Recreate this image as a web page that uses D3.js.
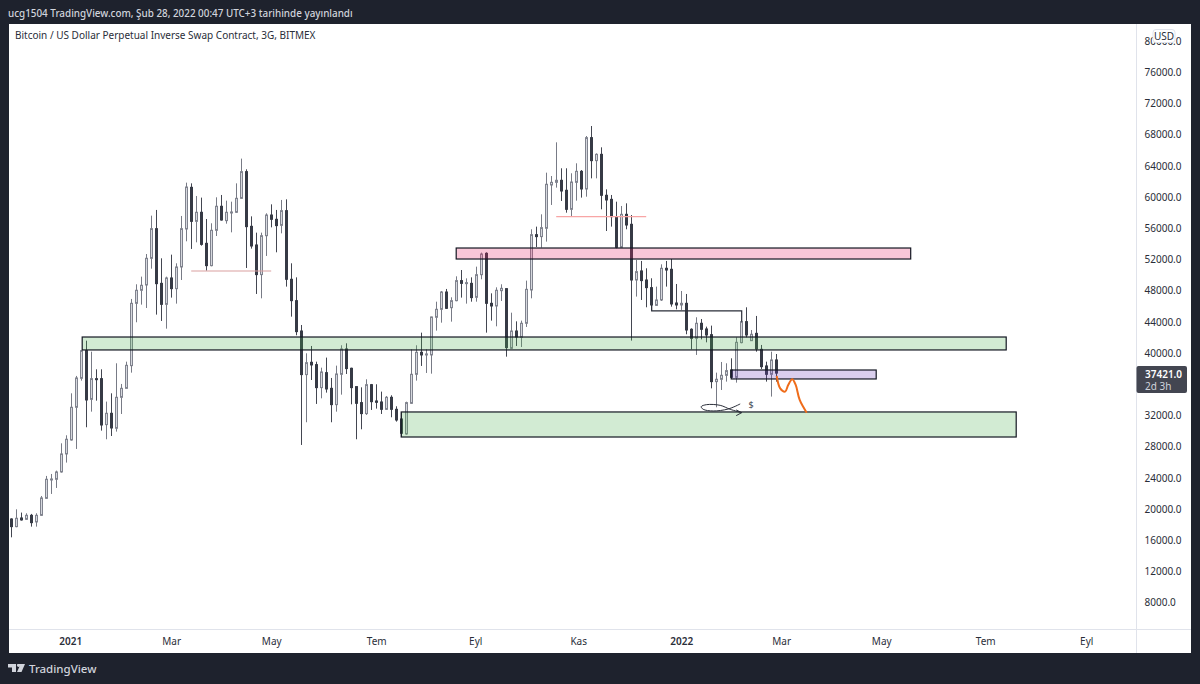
<!DOCTYPE html>
<html>
<head>
<meta charset="utf-8">
<script src="https://cdn.jsdelivr.net/npm/d3@7"></script>
<style>
  html, body { margin: 0; padding: 0; background: #1e222d; }
  svg { display: block; }
  text { font-family: "Noto Sans", sans-serif; }
</style>
</head>
<body>
<div id="chart"></div>
<script>
// Candle values, one entry per 3 day bar
const highs = [18810,19960,19540,19450,19370,19450,21670,24240,24490,24920,28420,29450,34830,37060,40390,41580,40170,37910,37910,33770,34830,38680,36030,38890,46930,48810,49790,52690,57610,58340,52140,49790,52610,51500,57570,61840,61750,60130,59920,57180,56630,59960,60260,59530,59400,61750,64920,63550,57520,55430,55430,57910,59060,58340,59620,59700,51500,49700,43590,39960,40900,38890,38120,39410,36800,38380,40990,41240,38120,35690,35600,36630,36030,35990,35050,34490,34580,33170,32350,33760,40470,40990,42610,40470,44660,46580,47950,48210,47140,49830,50640,49570,49700,51070,52870,52910,47650,48420,48810,48290,45170,44060,44150,49280,55860,56200,57780,63120,62690,67010,63680,63680,63040,64320,63460,67820,69100,65600,66370,60980,60260,59400,58850,59190,57690,51930,51800,50860,49580,48510,51370,51800,52050,48850,47950,47570,43170,44580,44360,43380,43510,37480,38850,38680,39320,42010,44230,45860,42950,44750,41030,38890,40170,39870];
const lows = [16370,17660,18510,18600,17740,17740,19110,21290,21930,22700,24660,25950,28770,27700,36460,30480,32480,33890,30050,28940,29360,29920,32180,35430,37480,43940,46200,45770,50810,44920,44110,43120,47100,46330,49360,54320,53340,54190,53760,50560,51110,55000,56970,56580,55470,57950,59790,50900,53380,47570,47010,52440,56110,52910,55340,48510,44660,42270,28210,31120,36540,33470,34190,34920,31120,32480,34660,37310,33420,28940,30220,32060,32700,32870,32180,32700,31760,31200,29280,29530,33470,36460,38340,37440,37350,42870,43890,45640,44020,46630,47100,46330,46580,46580,49450,42610,44150,43420,46670,39530,40520,40900,40770,43340,47010,53590,53510,54280,58980,61200,59490,57990,57480,59530,59920,60040,62390,62390,58420,55640,56200,53420,53460,55860,41590,47230,46800,45860,45430,46030,46670,48510,45940,45600,45520,42400,40470,39750,41750,41370,35470,33040,35260,36330,36840,36200,41240,42010,41540,40170,37950,36330,34410,36330];
const opens = [18720,17740,18850,18680,19190,18340,19190,21370,23770,23810,24750,27060,28850,33040,36760,40300,34060,36710,36710,30820,32270,30350,34320,35470,38380,46370,48040,48720,52140,55940,48930,46240,49620,48250,51030,55900,61240,56880,58040,54060,51200,55730,58810,56970,57990,58040,59830,63250,56240,53850,50050,55040,57690,57140,56370,58250,49450,46710,42820,37230,38810,38510,35560,37480,35470,33380,37270,40520,38040,35690,33640,32230,35940,33850,33720,32780,34320,32780,31540,29620,33550,37270,40090,39750,39750,44580,45600,47820,45810,46710,49280,48930,48930,47140,50040,52780,46370,46030,47990,48250,40600,42820,42010,43810,48080,55170,54920,55990,61540,61880,62140,60860,58420,61880,63290,61030,67610,64660,65470,60220,59700,57480,53550,57780,56500,49360,50520,49360,48380,46110,46800,50860,50730,46410,46160,46370,43040,41880,43810,43080,42350,36330,36630,37140,37820,36880,41330,44020,41580,42520,40470,38340,37270,39110];
const closes = [17740,18810,18600,19190,18250,19190,21420,23810,23850,24750,27060,28940,33040,36800,40300,33980,36710,36630,30770,32270,30390,34320,35470,38420,46370,48040,48680,52140,55940,48890,46240,49620,48250,51030,55940,61280,56880,58040,53930,51200,55730,58810,57050,58040,58080,59830,63250,56200,53720,50050,55040,57690,57140,56330,58250,49450,46710,42740,37230,38760,38470,35560,37570,35390,33380,37310,40520,38000,35560,33550,32230,35940,33760,33680,32780,34320,32780,31410,29710,33640,37270,40090,39750,39880,44620,45600,47820,45730,46710,49280,48930,49020,47100,50040,52690,46370,46030,48040,48290,40690,42820,42050,43810,48160,55170,54920,56070,61630,61880,62140,60770,58420,61920,63290,61030,67610,64660,65470,60220,59620,57480,53550,57780,56410,49360,50430,49280,48380,46160,46800,50860,50640,46290,46160,46370,42950,41880,43810,43040,42310,36330,36630,37140,37740,36880,41370,44020,42310,42400,40520,38250,37270,39110,37421];

// Axis labels (the 36000 tick is hidden behind the price tag in the picture)
const priceTicks = d3.range(80000, 7999, -4000).filter(p => p !== 36000);
const timeLabels = ["2021","Mar","May","Tem","Eyl","Kas","2022","Mar","May","Tem","Eyl"];
const timeBars = [11.7,31.9,51.9,72.9,92.7,113.3,133.9,153.9,173.9,194.7,214.9];

// Drawn zones: first bar, last bar, top price, bottom price, colour
const zoneStart = [14.1, 88.9, 143.9, 77.9];
const zoneEnd = [198.9, 179.8, 172.9, 200.9];
const zoneTop = [42050, 53460, 37820, 32440];
const zoneBottom = [40390, 52050, 36670, 29230];
const zoneFill = ["#4caf50", "#e91e63", "#673ab7", "#4caf50"];

// Thin horizontal levels
const levelStart = [35.9, 108.9];
const levelEnd = [51.9, 126.9];
const levelPrice = [50510, 57480];
const levelColor = ["#d9a0a0", "#f8a5a5"];

// Hand drawn pieces, as [bar, price]
const stepLine = [[128,46160],[128,45390],[146,45390],[146,44020]];
const orangePath = [[153,37050],[153.7,35470],[154.7,35050],[155.3,35900],[156.1,36630],[156.8,35900],[157.6,33980],[159,32350]];
const fishPath = [[145.7,33470],[143.3,32820],[140.3,32570],[138.3,32780],[137.9,33120],[139,33380],[141.7,33290],[143.7,32780],[146,32350]];
const fishHead = [[144.9,32700],[146,32350],[144.9,31970]];

const lastPrice = 37421;

const width = 1200, height = 684;
const box = { left: 9, right: 1191, top: 24, bottom: 653, axisX: 1136.5, axisY: 629.5 };

const svg = d3.select("#chart").append("svg")
    .attr("width", width)
    .attr("height", height);

// Dark page frame with the white chart panel inside
svg.append("rect").attr("width", width).attr("height", height).attr("fill", "#1e222d");
svg.append("rect")
    .attr("x", box.left).attr("y", box.top)
    .attr("width", box.right - box.left).attr("height", box.bottom - box.top)
    .attr("fill", "#fff");

const x = d3.scaleLinear().domain([0, 153]).range([11.7, 776.7]);
const y = d3.scaleLinear().domain([80000, 8000]).range([41, 602.6]);
const barX = i => Math.floor(x(i)) + 0.5;

// Candles
const candles = svg.append("g").selectAll("g")
    .data(highs.map((h, i) => ({ i, h, l: lows[i], o: opens[i], c: closes[i] })))
    .join("g");

candles.append("line")
    .attr("x1", d => barX(d.i))
    .attr("x2", d => barX(d.i))
    .attr("y1", d => y(d.h))
    .attr("y2", d => y(d.l))
    .attr("stroke", d => d.c >= d.o ? "#787b86" : "#434651");

candles.append("rect")
    .attr("x", d => barX(d.i) - 1)
    .attr("y", d => y(Math.max(d.o, d.c)))
    .attr("width", 2)
    .attr("height", d => Math.max(1, Math.abs(y(d.o) - y(d.c))))
    .attr("fill", d => d.c >= d.o ? "#d6d8de" : "#363a45")
    .attr("stroke", d => d.c >= d.o ? "#80838e" : "#363a45")
    .attr("stroke-width", 1);

// Zones sit on top of the candles with a see-through fill
svg.append("g").selectAll("rect")
    .data(zoneStart.map((s, i) => ({ s, e: zoneEnd[i], t: zoneTop[i], b: zoneBottom[i], fill: zoneFill[i] })))
    .join("rect")
    .attr("x", d => x(d.s))
    .attr("y", d => y(d.t))
    .attr("width", d => x(d.e) - x(d.s))
    .attr("height", d => y(d.b) - y(d.t))
    .attr("fill", d => d.fill)
    .attr("fill-opacity", 0.25)
    .attr("stroke", "#131722")
    .attr("stroke-width", 1.2);

svg.append("g").selectAll("line")
    .data(levelStart.map((s, i) => ({ s, e: levelEnd[i], p: levelPrice[i], color: levelColor[i] })))
    .join("line")
    .attr("x1", d => x(d.s))
    .attr("x2", d => x(d.e))
    .attr("y1", d => y(d.p))
    .attr("y2", d => y(d.p))
    .attr("stroke", d => d.color)
    .attr("stroke-width", 1.2);

const toXY = d3.line().x(d => x(d[0])).y(d => y(d[1]));
const toCurve = d3.line().x(d => x(d[0])).y(d => y(d[1])).curve(d3.curveCatmullRom);

svg.append("path").attr("d", toXY(stepLine))
    .attr("fill", "none").attr("stroke", "#2a2e39").attr("stroke-width", 1.2);
svg.append("path").attr("d", toCurve(orangePath))
    .attr("fill", "none").attr("stroke", "#ef6c1a").attr("stroke-width", 2);
svg.append("path").attr("d", toCurve(fishPath))
    .attr("fill", "none").attr("stroke", "#2a2e39").attr("stroke-width", 1);
svg.append("path").attr("d", toXY(fishHead))
    .attr("fill", "none").attr("stroke", "#2a2e39").attr("stroke-width", 1);
svg.append("text")
    .attr("x", x(147.9)).attr("y", y(32900))
    .attr("text-anchor", "middle")
    .attr("font-size", 9).attr("fill", "#434651")
    .text("$");

// Axis panels, separators
svg.append("line")
    .attr("x1", box.axisX).attr("x2", box.axisX)
    .attr("y1", box.top).attr("y2", box.bottom)
    .attr("stroke", "#e0e3eb");
svg.append("line")
    .attr("x1", box.left).attr("x2", box.right)
    .attr("y1", box.axisY).attr("y2", box.axisY)
    .attr("stroke", "#e0e3eb");

// Price axis
const priceAxis = svg.append("g")
    .attr("transform", `translate(${box.axisX},0)`)
    .call(d3.axisRight(y).tickValues(priceTicks).tickSize(0).tickPadding(8).tickFormat(d3.format(".1f")));
priceAxis.select(".domain").remove();
priceAxis.selectAll("text")
    .attr("font-family", "Noto Sans").attr("font-size", 10).attr("fill", "#2a2e39");

// Time axis
const timeAxis = svg.append("g")
    .attr("transform", `translate(0,${box.axisY})`)
    .call(d3.axisBottom(x).tickValues(timeBars).tickSize(0).tickPadding(8).tickFormat((d, i) => timeLabels[i]));
timeAxis.select(".domain").remove();
timeAxis.selectAll("text")
    .attr("font-family", "Noto Sans")
    .attr("font-size", 10)
    .attr("fill", "#2a2e39")
    .attr("font-weight", (d, i) => /^\d/.test(timeLabels[i]) ? 600 : 400);

// Last price tag
const tagY = y(lastPrice);
svg.append("rect")
    .attr("x", box.axisX).attr("y", tagY - 7)
    .attr("width", 50.5).attr("height", 27).attr("rx", 2)
    .attr("fill", "#434651");
svg.append("text")
    .attr("x", 1145).attr("y", tagY + 4.5)
    .attr("font-size", 10).attr("font-weight", 600).attr("fill", "#fff")
    .text(d3.format(".1f")(lastPrice));
svg.append("text")
    .attr("x", 1145).attr("y", tagY + 17)
    .attr("font-size", 10).attr("fill", "#d1d4dc")
    .text("2d 3h");

// Currency badge
svg.append("rect")
    .attr("x", 1153).attr("y", 29.5)
    .attr("width", 22).attr("height", 13).attr("rx", 3)
    .attr("fill", "#fff").attr("stroke", "#e0e3eb");
svg.append("text")
    .attr("x", 1164).attr("y", 39.5)
    .attr("text-anchor", "middle")
    .attr("font-size", 10).attr("fill", "#2a2e39")
    .text("USD");

// Header and title
svg.append("text")
    .attr("x", 8).attr("y", 17)
    .attr("font-size", 9.9).attr("font-weight", 500).attr("fill", "#d1d4dc")
    .text("ucg1504 TradingView.com, Şub 28, 2022 00:47 UTC+3 tarihinde yayınlandı");
svg.append("text")
    .attr("x", 15).attr("y", 39)
    .attr("font-size", 10).attr("fill", "#2a2e39")
    .text("Bitcoin / US Dollar Perpetual Inverse Swap Contract, 3G, BITMEX");

// Footer logo
svg.append("path")
    .attr("d", "M8 664h8v8h-4v-4.5h-4z M17.5 664h7.5l-3.5 8h-4.5l2.5-5.5a1.4 1.4 0 0 1-2-2.5z")
    .attr("fill", "#d1d4dc");
svg.append("text")
    .attr("x", 29).attr("y", 673)
    .attr("font-size", 11.5).attr("font-weight", 500).attr("fill", "#d1d4dc")
    .text("TradingView");
</script>
</body>
</html>
